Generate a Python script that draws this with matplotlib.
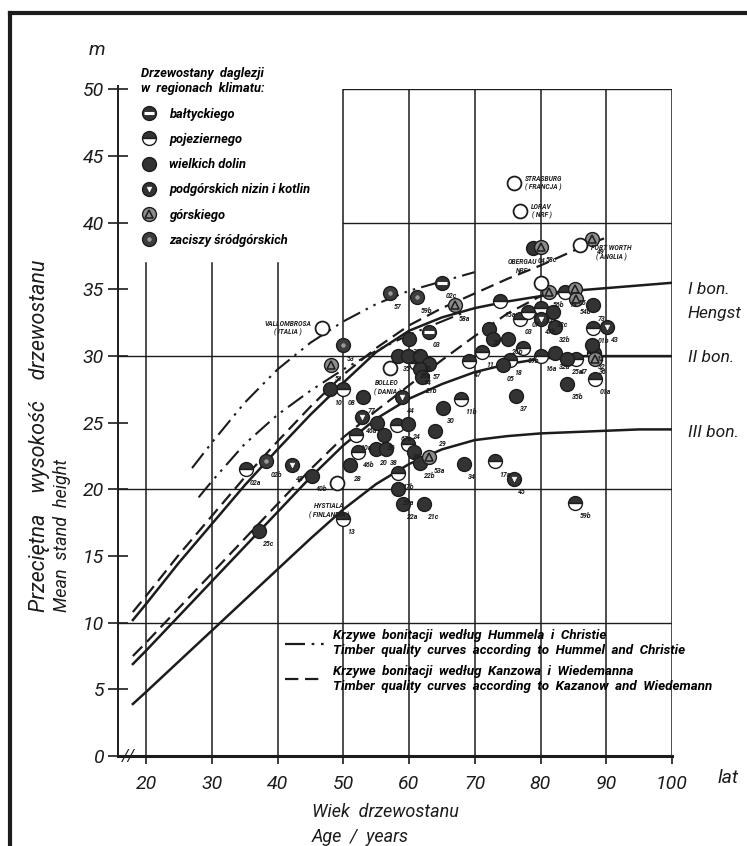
import matplotlib
matplotlib.use('Agg')
import matplotlib.pyplot as plt
from matplotlib.lines import Line2D
from matplotlib.legend_handler import HandlerTuple
from matplotlib import font_manager

names = {f.name for f in font_manager.fontManager.ttflist}
MAIN = 'Roboto' if 'Roboto' in names else 'DejaVu Sans'
plt.rcParams['font.family'] = [MAIN, 'DejaVu Sans']

INK = '#1c1c1c'
DARK = '#333333'
MS = 10

# ---------------- data ----------------
# site-quality curves (age in years, height in m)
hengst_age = [18, 20, 25, 30, 35, 40, 45, 50, 55, 60, 65, 70, 75, 80, 85, 90, 95, 100]
hengst_I = [10.2, 11.4, 14.5, 17.4, 20.3, 23.0, 25.6, 28.0, 30.3, 31.9, 32.9, 33.6, 34.1, 34.5, 34.9, 35.1, 35.3, 35.5]
hengst_II = [6.9, 7.9, 10.5, 13.1, 15.7, 18.3, 20.9, 23.3, 25.3, 26.8, 27.9, 28.8, 29.4, 29.8, 30.0, 30.0, 30.0, 30.0]
hengst_III = [3.9, 4.8, 7.1, 9.4, 11.7, 14.0, 16.3, 18.5, 20.4, 21.9, 23.0, 23.7, 24.0, 24.2, 24.3, 24.4, 24.5, 24.5]

kanzow_age_I = [18, 20, 25, 30, 35, 40, 45, 50, 55, 60, 65, 70, 75, 80, 85, 90]
kanzow_I = [10.8, 12.0, 15.1, 18.0, 20.9, 23.6, 26.2, 28.6, 30.6, 32.3, 33.6, 34.7, 35.8, 36.8, 37.9, 38.9]
kanzow_age_II = [18, 20, 25, 30, 35, 40, 45, 50, 55, 60, 65, 70, 75, 80, 85]
kanzow_II = [7.5, 8.5, 11.1, 13.7, 16.3, 18.9, 21.5, 23.9, 25.9, 27.8, 29.7, 31.5, 33.2, 34.5, 35.1]

hummel_age_I = [27, 30, 35, 40, 45, 50, 55, 60, 65, 70]
hummel_I = [21.6, 23.5, 26.5, 29.0, 31.0, 32.6, 33.9, 34.9, 35.6, 36.3]
hummel_age_II = [28, 30, 35, 40, 45, 50, 55, 60, 65, 68]
hummel_II = [19.4, 20.6, 23.4, 25.6, 27.4, 29.0, 30.4, 31.6, 32.6, 33.2]

# stands by climatic region
balt_age = [65.0, 63.0]
balt_h = [35.5, 31.8]
balt_lab = ['02c', '03']

poj_age = [35.2, 50.0, 50.0, 52.3, 52.0, 58.1, 58.4, 59.9, 73.1, 67.9, 69.2, 71.1, 77.4, 80.1,
           75.3, 61.1, 73.9, 78.1, 76.9, 83.7, 88.0, 88.3, 88.1, 85.4, 85.3, 80.1]
poj_h = [21.5, 17.8, 27.5, 22.8, 24.1, 24.8, 21.2, 23.4, 22.1, 26.8, 29.6, 30.3, 30.6, 30.0,
         29.7, 29.5, 34.1, 33.3, 32.8, 34.8, 32.1, 28.3, 30.2, 29.8, 19.0, 33.6]
poj_lab = ['02a', '13', '08', '46b', '10a', '67a', '17b', '31', '17a', '11b', '47', '11', '09b', '16a',
           '18', '26a', '15a', '07', '03', '19', '01b', '01a', '32', '47', '59b', '52']

dolin_age = [78.9, 88.0, 81.9, 82.2, 72.1, 72.8, 75.1, 74.3, 82.2, 84.1, 87.8, 84.1, 76.2, 60.0,
             58.4, 59.9, 61.7, 63.0, 61.6, 62.0, 53.0, 48.0, 59.9, 55.2, 56.2, 55.0, 56.5, 51.0,
             65.1, 63.9, 60.8, 61.7, 68.3, 58.4, 59.1, 62.3, 45.2, 37.2]
dolin_h = [38.1, 33.8, 33.3, 32.2, 32.0, 31.3, 31.3, 29.3, 30.2, 29.8, 30.8, 27.9, 27.0, 31.3,
           30.0, 30.0, 30.0, 29.4, 29.0, 28.4, 26.9, 27.5, 24.9, 25.0, 24.1, 23.0, 23.0, 21.8,
           26.1, 24.4, 22.8, 22.0, 21.9, 20.0, 18.9, 18.9, 21.0, 16.9]
dolin_lab = ['04', '73', '32c', '32b', '28', '', '26b', '05', '32a', '25a', '12', '35b', '37', '31',
             '35', '', '30', '57', '14', '21b', '77', '10', '24', '', '36', '20', '38', '28',
             '30', '29', '', '22b', '34', '21a', '22a', '21c', '40b', '25c']

podg_age = [42.2, 52.8, 59.0, 80.1, 90.1, 76.0]
podg_h = [21.8, 25.4, 26.9, 32.8, 32.2, 20.8]
podg_lab = ['48', '46a', '44', '47b', '43', '45']

gorsk_age = [80.1, 87.9, 85.2, 85.4, 81.3, 67.0, 48.1, 63.1, 88.3]
gorsk_h = [38.2, 38.8, 35.0, 34.3, 34.8, 33.8, 29.3, 22.4, 29.8]
gorsk_lab = ['58c', '49', '55', '54b', '56b', '58a', '51', '53a', '36']

zacisz_age = [57.1, 61.2, 49.9, 38.3]
zacisz_h = [34.7, 34.4, 30.8, 22.1]
zacisz_lab = ['57', '59b', '53', '02b']

foreign_age = [75.9, 76.9, 86.0, 80.1, 46.8, 57.1, 49.1]
foreign_h = [43.0, 40.9, 38.3, 35.5, 32.1, 29.1, 20.5]
foreign_lab = ['STRASBURG\n( FRANCJA )', 'LORAV\n( NRF )', 'FORT WORTH\n( ANGLIA )',
               'OBERGAU\nNRF', 'VALLOMBROSA\n( ITALIA )', 'BOLLEO\n( DANIA )',
               'HYSTIALA\n( FINLANDIA )']

x_ticks = [20, 30, 40, 50, 60, 70, 80, 90, 100]
y_ticks = [0, 5, 10, 15, 20, 25, 30, 35, 40, 45, 50]

# ---------------- styles / layout ----------------
STY = {
    'balt': [dict(marker='o', ms=MS, mfc=DARK, mec=INK, mew=1.0),
             dict(marker='_', ms=MS * 0.75, mec='white', mew=2.2)],
    'poj': [dict(marker='o', ms=MS, mfc=DARK, markerfacecoloralt='white', fillstyle='top', mec=INK, mew=1.0)],
    'dolin': [dict(marker='o', ms=MS, mfc=DARK, mec=INK, mew=1.0)],
    'podg': [dict(marker='o', ms=MS, mfc=DARK, mec=INK, mew=1.0),
             dict(marker='v', ms=MS * 0.34, mfc='white', mec='white', mew=0.4)],
    'gorsk': [dict(marker='o', ms=MS, mfc='#8c8c8c', mec=INK, mew=1.0),
              dict(marker='^', ms=MS * 0.6, mfc='none', mec=INK, mew=1.1)],
    'zacisz': [dict(marker='o', ms=MS, mfc='#3d3d3d', mec=INK, mew=1.0),
               dict(marker='o', ms=MS * 0.32, mfc='#9a9a9a', mec='none')],
    'open': [dict(marker='o', ms=MS, mfc='white', mec=INK, mew=1.3)],
}
# text placement for the foreign stands: (dx, dy in points, horizontal alignment)
FOREIGN_POS = [(8, 0, 'left'), (8, 0, 'left'), (8, -5, 'left'), (-3, 12, 'right'),
               (-8, 0, 'right'), (-2, -14, 'center'), (-6, -20, 'center')]

fig = plt.figure(figsize=(7.47, 8.46), dpi=100)
W, H = 747, 846
ax = fig.add_axes([118 / W, 1 - 756 / H, (672 - 118) / W, 666.5 / H])
ax.set_xlim(15.74, 100)
ax.set_ylim(0, 50)
for s in ['top', 'right']:
    ax.spines[s].set_visible(False)
ax.spines['left'].set_linewidth(1.4)
ax.spines['left'].set_bounds(0, 50.3)
ax.spines['bottom'].set_linewidth(2.2)
ax.spines['left'].set_color(INK)
ax.spines['bottom'].set_color(INK)

# grid
for xv in x_ticks:
    ax.plot([xv, xv], [0, 37 if xv < 50 else 50], color=INK, lw=1.1, zorder=1)
for yv in [10, 20, 30]:
    ax.plot([15.74, 100], [yv, yv], color=INK, lw=1.0, zorder=1)
for yv in [40, 50]:
    ax.plot([50, 100], [yv, yv], color=INK, lw=1.0, zorder=1)

ax.set_xticks(x_ticks)
ax.set_yticks(y_ticks)
ax.set_xticklabels([str(v) for v in x_ticks], fontsize=14, style='italic')
ax.set_yticklabels([str(v) for v in y_ticks], fontsize=14, style='italic')
ax.tick_params(axis='y', direction='inout', length=14, width=1.2, pad=3, colors=INK)
ax.tick_params(axis='x', direction='out', length=6, width=1.2, pad=8, colors=INK)
ax.text(17.4, 0, '//', fontsize=12, ha='center', va='center', style='italic', color=INK, clip_on=False)

# curves
ax.plot(hengst_age, hengst_I, color=INK, lw=1.8, zorder=2)
ax.plot(hengst_age, hengst_II, color=INK, lw=1.8, zorder=2)
ax.plot(hengst_age, hengst_III, color=INK, lw=1.8, zorder=2)
ax.plot(kanzow_age_I, kanzow_I, color=INK, lw=1.6, ls=(0, (6, 3)), zorder=2)
ax.plot(kanzow_age_II, kanzow_II, color=INK, lw=1.6, ls=(0, (6, 3)), zorder=2)
ddd = (0, (9, 3, 1.2, 3, 1.2, 3))
ax.plot(hummel_age_I, hummel_I, color=INK, lw=1.5, ls=ddd, zorder=2)
ax.plot(hummel_age_II, hummel_II, color=INK, lw=1.5, ls=ddd, zorder=2)


def draw(kind, xs, ys, labs):
    for st in STY[kind]:
        ax.plot(xs, ys, ls='none', zorder=4, **st)
    for x, y, t in zip(xs, ys, labs):
        if t:
            ax.annotate(t, (x, y), xytext=(3, -11), textcoords='offset points', fontsize=5,
                        fontweight='bold', style='italic', color=INK, zorder=5)


draw('balt', balt_age, balt_h, balt_lab)
draw('poj', poj_age, poj_h, poj_lab)
draw('dolin', dolin_age, dolin_h, dolin_lab)
draw('podg', podg_age, podg_h, podg_lab)
draw('gorsk', gorsk_age, gorsk_h, gorsk_lab)
draw('zacisz', zacisz_age, zacisz_h, zacisz_lab)
for st in STY['open']:
    ax.plot(foreign_age, foreign_h, ls='none', zorder=4, **st)
for x, y, t, (dx, dy, ha) in zip(foreign_age, foreign_h, foreign_lab, FOREIGN_POS):
    ax.annotate(t, (x, y), xytext=(dx, dy), textcoords='offset points', fontsize=4.8,
                fontweight='bold', style='italic', color=INK, va='center', ha=ha,
                multialignment='center', linespacing=1.3, zorder=5)

# legend of regions
def handle(kind):
    return tuple(Line2D([], [], ls='none', **st) for st in STY[kind])

reg_kinds = ['balt', 'poj', 'dolin', 'podg', 'gorsk', 'zacisz']
reg_names = ['bałtyckiego', 'pojeziernego', 'wielkich dolin', 'podgórskich nizin i kotlin',
             'górskiego', 'zaciszy śródgórskich']
leg1 = ax.legend([handle(k) for k in reg_kinds], reg_names,
                 handler_map={tuple: HandlerTuple(ndivide=1, pad=0)},
                 loc='upper left', bbox_to_anchor=(0.03, 1.043), frameon=False,
                 title='Drzewostany  daglezji\nw  regionach  klimatu:', alignment='left',
                 prop=dict(size=9.3, weight='bold', style='italic'),
                 title_fontproperties=dict(size=9.3, weight='bold', style='italic'),
                 labelspacing=0.95, handlelength=1.2, handletextpad=1.0, borderpad=0)
ax.add_artist(leg1)

# legend of curves
c_handles = [Line2D([], [], color=INK, lw=1.6, ls=ddd), Line2D([], [], color=INK, lw=1.6, ls=(0, (6, 3)))]
c_labels = ['Krzywe  bonitacji  według  Hummela  i  Christie\nTimber  quality  curves  according  to  Hummel  and  Christie',
            'Krzywe  bonitacji  według  Kanzowa  i  Wiedemanna\nTimber  quality  curves  according  to  Kazanow  and  Wiedemann']
leg2 = ax.legend(c_handles, c_labels, loc='upper left', bbox_to_anchor=(0.29, 0.2), frameon=False,
                 prop=dict(size=9.6, weight='bold', style='italic'), handlelength=3.0, handletextpad=0.6,
                 labelspacing=0.55, borderpad=0)
for t in leg2.get_texts():
    t.set_linespacing(1.2)

# labels on right
for t, y in [('I bon.', 35.0), ('Hengst', 33.2), ('II bon.', 29.9), ('III bon.', 24.3)]:
    ax.text(102.4, y, t, fontsize=12.5, style='italic', color=INK, va='center', ha='left', clip_on=False)

fig.text(718 / W, 1 - 778 / H, 'lat', fontsize=14, style='italic', color=INK, va='center')
fig.text(97 / W, 1 - 50 / H, 'm', fontsize=14, style='italic', color=INK, va='center', ha='center')
fig.text(40 / W, 1 - 612 / H, 'Przeciętna    wysokość    drzewostanu', rotation=90, fontsize=15.5,
         style='italic', color=INK, ha='center', va='bottom')
fig.text(62 / W, 1 - 612 / H, 'Mean  stand  height', rotation=90, fontsize=13,
         style='italic', color=INK, ha='center', va='bottom')
fig.text(312 / W, 1 - 812 / H, 'Wiek  drzewostanu', fontsize=13, style='italic', color=INK, va='center')
fig.text(312 / W, 1 - 837 / H, 'Age  /  years', fontsize=13, style='italic', color=INK, va='center')

# frame
fig.add_artist(Line2D([10 / W, 10 / W], [0, 1 - 13 / H], transform=fig.transFigure, color=INK, lw=3))
fig.add_artist(Line2D([10 / W, 1], [1 - 13 / H, 1 - 13 / H], transform=fig.transFigure, color=INK, lw=3))

fig.savefig('out.png', dpi=100, facecolor='white')
